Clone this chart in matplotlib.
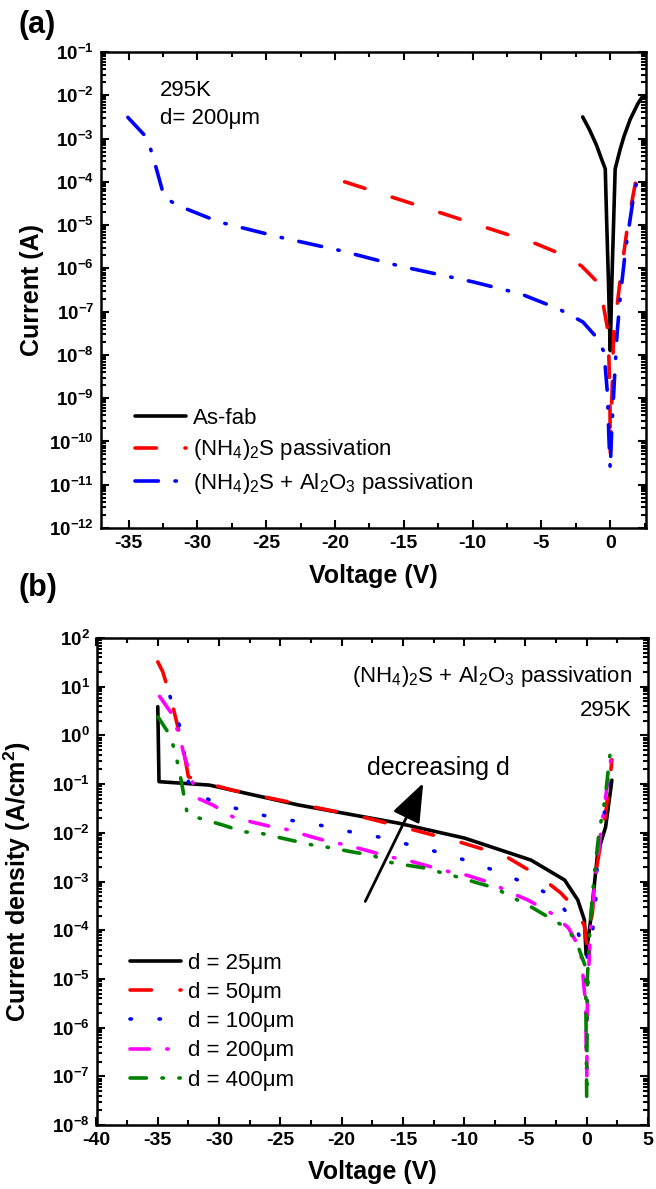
"""I-V curves: (a) passivation comparison, (b) size dependence."""

import matplotlib

matplotlib.use("Agg")
import matplotlib.pyplot as plt
import numpy as np
from matplotlib.ticker import FuncFormatter, LogLocator, MultipleLocator, NullFormatter

plt.rcParams["font.family"] = ["Liberation Sans", "DejaVu Sans"]
plt.rcParams["mathtext.fontset"] = "custom"
plt.rcParams["mathtext.rm"] = "Liberation Sans"
plt.rcParams["mathtext.it"] = "Liberation Sans:italic"
plt.rcParams["mathtext.bf"] = "Liberation Sans:bold"
plt.rcParams["axes.unicode_minus"] = False
plt.rcParams["lines.scale_dashes"] = False

# ---- panel (a): current vs voltage, d = 200 um (log10 of current in A) ----
asfab_v = [-2.0, -1.5, -1.0, -0.6, -0.36, -0.25, -0.12, 0.0, 0.12, 0.25, 0.36,
           0.73, 1.0, 1.46, 2.0, 2.3]
asfab_logi = [-2.5, -2.8, -3.15, -3.5, -3.7, -5.0, -6.4, -7.9, -6.3, -4.9, -3.7,
              -3.24, -2.95, -2.55, -2.2, -2.05]

nh4s_v = [-19.3, -12.0, -5.4, -3.95, -2.1, -0.8, -0.45, -0.15, -0.08, -0.02, 0.0,
          0.08, 0.25, 0.5, 0.73, 1.3, 2.05]
nh4s_logi = [-4.0, -4.75, -5.43, -5.62, -5.94, -6.36, -6.94, -7.47, -8.25, -9.0, -10.3,
             -9.5, -7.47, -6.87, -6.24, -4.93, -3.65]

al2o3_v = [-35.05, -33.7, -33.27, -32.4, -31.4, -28.4, -24.0, -19.6, -15.25, -10.0,
           -6.5, -3.73, -1.98, -1.03, -0.45, -0.2, -0.1, 0.0, 0.1, 0.3, 0.5, 0.75,
           1.1, 1.7, 2.0]
al2o3_logi = [-2.51, -2.97, -3.36, -4.36, -4.55, -4.93, -5.28, -5.59, -5.95, -6.31,
              -6.59, -6.94, -7.24, -7.58, -7.93, -8.9, -9.87, -10.65, -9.8, -8.6, -7.5,
              -6.6, -5.6, -4.33, -3.9]

labels_a = ["As-fab", r"(NH$_4$)$_2$S passivation",
            r"(NH$_4$)$_2$S + Al$_2$O$_3$ passivation"]

# ---- panel (b): current density vs voltage (log10 of A/cm^2) ----
d25_v = [-35.0, -34.9, -30.8, -23.5, -15.4, -9.95, -4.55, -1.8, -0.73, -0.19, -0.05,
         0.32, 0.89, 1.54, 1.95, 2.05]
d25_logj = [0.59, -0.95, -1.02, -1.43, -1.80, -2.11, -2.56, -2.97, -3.38, -3.79, -4.5,
            -3.79, -2.42, -1.88, -1.12, -0.92]

d50_v = [-35.0, -34.6, -33.9, -33.3, -32.9, -32.5, -31.0, -29.0, -26.0, -22.1, -18.2,
         -14.3, -10.5, -6.7, -3.75, -2.1, -1.05, -0.2, 0.0, 0.22, 0.46, 0.75, 1.3,
         1.54, 1.95, 2.05]
d50_logj = [1.51, 1.31, 0.73, 0.11, -0.3, -0.85, -0.98, -1.12, -1.28, -1.48, -1.68,
            -1.93, -2.18, -2.47, -2.91, -3.24, -3.52, -3.9, -4.3, -4.0, -3.65, -2.8,
            -2.0, -1.6, -0.77, -0.5]

d100_v = [-34.0, -33.2, -32.8, -32.4, -30.5, -28.2, -25.9, -23.5, -21.2, -18.75, -16.4,
          -14.15, -11.9, -9.55, -7.25, -4.95, -2.65, -1.03, -0.2, 0.0, 0.45, 0.7, 0.9,
          1.5, 2.05]
d100_logj = [0.80, 0.18, -0.44, -1.12, -1.36, -1.53, -1.67, -1.77, -1.87, -2.01, -2.11,
             -2.27, -2.41, -2.59, -2.80, -3.04, -3.31, -3.83, -4.41, -4.6, -4.06, -3.6,
             -2.35, -1.5, -0.6]

d200_v = [-34.85, -33.9, -33.2, -32.9, -31.75, -30.5, -28.9, -27.3, -25.8, -24.3, -22.5,
          -21.05, -19.6, -17.55, -16.2, -14.7, -12.7, -11.2, -9.8, -7.8, -6.4, -4.8,
          -2.9, -1.5, -0.5, -0.1, 0.0, 0.05, 0.3, 0.7, 1.3, 2.0]
d200_logj = [0.80, 0.46, -0.03, -0.36, -1.29, -1.43, -1.67, -1.78, -1.87, -1.94, -2.08,
             -2.18, -2.25, -2.39, -2.49, -2.56, -2.70, -2.80, -2.87, -3.03, -3.21, -3.38,
             -3.65, -3.95, -4.4, -5.5, -7.1, -5.5, -4.0, -2.9, -1.7, -0.44]

d400_v = [-34.98, -34.0, -33.6, -33.2, -32.6, -31.6, -29.7, -28.0, -26.75, -25.4, -22.4,
          -20.8, -19.2, -17.5, -16.2, -14.8, -13.3, -10.2, -8.9, -7.5, -6.2, -4.55,
          -1.8, -0.9, -0.1, 0.0, 0.05, 0.3, 0.6, 1.0, 1.5, 2.0]
d400_logj = [0.38, 0.0, -0.33, -0.78, -1.6, -1.70, -1.84, -1.98, -2.0, -2.08, -2.25,
             -2.31, -2.39, -2.46, -2.6, -2.66, -2.72, -2.93, -3.03, -3.13, -3.31, -3.52,
             -3.93, -4.2, -4.75, -7.45, -5.0, -3.8, -2.9, -2.0, -1.3, -0.16]

labels_b = ["d = 25μm", "d = 50μm", "d = 100μm", "d = 200μm", "d = 400μm"]

# dash patterns in points (scale_dashes off)
LW = 2.6
SOLID = "-"
DASH = (0, (15.4, 20.6))
DASHDOT_A = (0, (16.8, 12.0, 1.0, 12.0))
DOT = (0, (1.0, 19.9))
DASHDOT_B = (0, (13.9, 12.6, 1.0, 12.6))
DASHDOTDOT = (0, (11.8, 11.2, 1.0, 11.2, 1.0, 11.2))


def _decade(v, pos):
    return r"$\mathbf{10^{%d}}$" % int(round(np.log10(v)))


def style_axes(ax, xlim, ylim):
    ax.set_yscale("log")
    ax.set_xlim(*xlim)
    ax.set_ylim(*ylim)
    ax.xaxis.set_major_locator(MultipleLocator(5))
    ax.xaxis.set_minor_locator(MultipleLocator(2.5))
    ax.yaxis.set_major_locator(LogLocator(base=10, numticks=30))
    ax.yaxis.set_minor_locator(LogLocator(base=10, subs=np.arange(2, 10), numticks=30))
    ax.yaxis.set_major_formatter(FuncFormatter(_decade))
    ax.yaxis.set_minor_formatter(NullFormatter())
    ax.tick_params(which="both", direction="in", top=True, right=True, width=1.5)
    ax.tick_params(which="major", length=6, pad=5)
    ax.tick_params(axis="x", which="major", labelsize=14)
    ax.tick_params(axis="y", which="major", labelsize=13.5)
    for lab in ax.get_xticklabels():
        lab.set_fontweight("bold")
    ax.tick_params(which="minor", length=3.5)
    for s in ax.spines.values():
        s.set_linewidth(1.8)


def draw(ax, v, logv, color, ls, label):
    ax.plot(v, 10.0 ** np.asarray(logv), color=color, linestyle=ls, lw=LW,
            dash_capstyle="round", solid_capstyle="round", label=label)


fig = plt.figure(figsize=(6.56, 11.89), dpi=100)
W, H = 656.0, 1189.0
ax_a = fig.add_axes([101 / W, 1 - 528 / H, 545 / W, 476 / H])
ax_b = fig.add_axes([96.5 / W, 1 - 1125 / H, 551.5 / W, 487 / H])

# panel (a)
draw(ax_a, asfab_v, asfab_logi, "black", SOLID, labels_a[0])
draw(ax_a, nh4s_v, nh4s_logi, "#ff0000", DASH, labels_a[1])
draw(ax_a, al2o3_v, al2o3_logi, "#0000ff", DASHDOT_A, labels_a[2])
style_axes(ax_a, (-37, 2.6), (1e-12, 1e-1))
ax_a.set_xlabel("Voltage (V)", fontsize=18, fontweight="bold")
ax_a.set_ylabel("Current (A)", fontsize=18, fontweight="bold")
ax_a.xaxis.set_label_coords(0.5, -0.075)
ax_a.yaxis.set_label_coords(-0.105, 0.5)
ax_a.text(0.108, 0.92, "295K", transform=ax_a.transAxes, fontsize=16, va="center")
ax_a.text(0.108, 0.861, "d= 200μm", transform=ax_a.transAxes, fontsize=16, va="center")
ax_a.legend(loc="center left", bbox_to_anchor=(0.062, 0.160), frameon=False,
            fontsize=16, handlelength=2.3, handletextpad=0.3, labelspacing=0.38,
            borderpad=0, borderaxespad=0)

# panel (b)
draw(ax_b, d25_v, d25_logj, "black", SOLID, labels_b[0])
draw(ax_b, d50_v, d50_logj, "#ff0000", DASH, labels_b[1])
draw(ax_b, d100_v, d100_logj, "#0000ff", DOT, labels_b[2])
draw(ax_b, d200_v, d200_logj, "#ff00ff", DASHDOT_B, labels_b[3])
draw(ax_b, d400_v, d400_logj, "#008000", DASHDOTDOT, labels_b[4])
style_axes(ax_b, (-40, 5), (1e-8, 1e2))
ax_b.set_xlabel("Voltage (V)", fontsize=18, fontweight="bold")
ax_b.set_ylabel(r"Current density (A/cm$^\mathbf{2}$)", fontsize=18, fontweight="bold")
ax_b.xaxis.set_label_coords(0.5, -0.072)
ax_b.yaxis.set_label_coords(-0.115, 0.5)
ax_b.text(0.971, 0.92, r"(NH$_4$)$_2$S + Al$_2$O$_3$ passivation",
          transform=ax_b.transAxes, fontsize=16, ha="right", va="center")
ax_b.text(0.971, 0.852, "295K", transform=ax_b.transAxes, fontsize=16,
          ha="right", va="center")
ax_b.annotate("", xy=(-13.34, 0.105), xytext=(-18.07, 3.9e-4),
              arrowprops=dict(arrowstyle="-|>,head_length=1.0,head_width=0.38",
                              lw=2.0, color="black", mutation_scale=24,
                              shrinkA=0, shrinkB=0))
ax_b.text(0.490, 0.733, "decreasing d", transform=ax_b.transAxes, fontsize=18,
          va="center")
ax_b.legend(loc="center left", bbox_to_anchor=(0.061, 0.212), frameon=False,
            fontsize=16, handlelength=2.3, handletextpad=0.3, labelspacing=0.37,
            borderpad=0, borderaxespad=0)

fig.text(18 / W, 1 - 25 / H, "(a)", fontsize=22, fontweight="bold", va="center")
fig.text(18 / W, 1 - 588 / H, "(b)", fontsize=22, fontweight="bold", va="center")

fig.savefig("out.png", dpi=100)
